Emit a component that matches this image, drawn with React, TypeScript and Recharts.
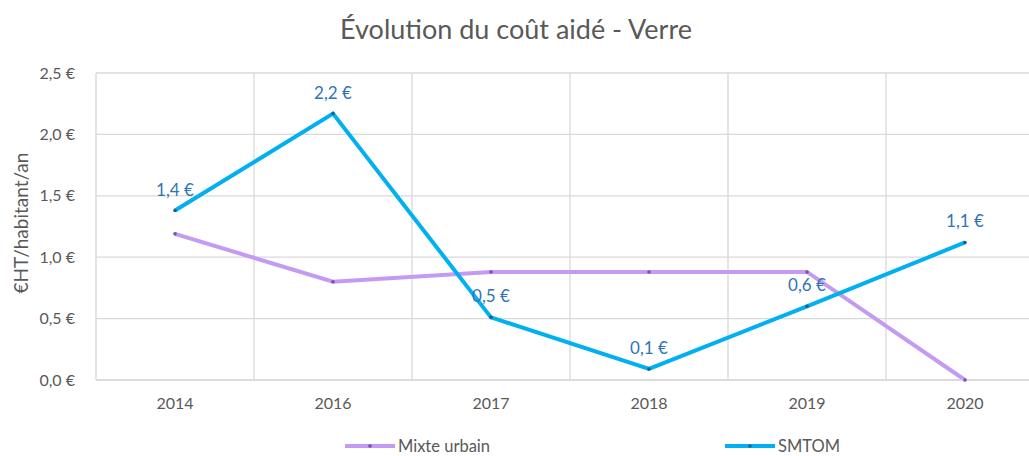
import { LineChart, Line, XAxis, YAxis, CartesianGrid, Legend, LabelList } from "recharts";

const years = ["2014", "2016", "2017", "2018", "2019", "2020"];
const mixteUrbain = [1.19, 0.8, 0.88, 0.88, 0.88, 0];
const smtom = [1.38, 2.17, 0.51, 0.09, 0.6, 1.12];
const yTicks = [0, 0.5, 1, 1.5, 2, 2.5];

const data = years.map((year, i) => ({
  year,
  mixte: mixteUrbain[i],
  smtom: smtom[i],
}));

const FONT = "Lato, 'Open Sans', sans-serif";
const GRAY = "#595959";
const PURPLE = "#C59AF2";
const BLUE = "#00B0F0";

const euro = (v: number) => `${v.toFixed(1).replace(".", ",")} €`;

function LegendContent() {
  const items = [
    { name: "Mixte urbain", color: PURPLE, dot: "#7A4FB0", left: 345 },
    { name: "SMTOM", color: BLUE, dot: "#1C5E8C", left: 725 },
  ];
  return (
    <div style={{ position: "relative", height: 20, fontFamily: FONT, fontSize: 16.5, color: GRAY }}>
      {items.map((it) => (
        <div
          key={it.name}
          style={{ position: "absolute", left: it.left, top: 0, height: 20, display: "flex", alignItems: "center" }}
        >
          <svg width={50} height={10} style={{ marginRight: 3 }}>
            <line x1={0} y1={5} x2={50} y2={5} stroke={it.color} strokeWidth={4} />
            <circle cx={25} cy={5} r={1.8} fill={it.dot} />
          </svg>
          <span>{it.name}</span>
        </div>
      ))}
    </div>
  );
}

export default function App() {
  return (
    <div
      style={{
        position: "absolute",
        left: 0,
        top: 0,
        width: 1029,
        height: 456,
        overflow: "hidden",
        background: "#fff",
      }}
    >
      <div
        style={{
          position: "absolute",
          top: 12,
          left: 0,
          width: 1032,
          textAlign: "center",
          fontFamily: FONT,
          fontSize: 27,
          color: GRAY,
          zIndex: 2,
        }}
      >
        Évolution du coût aidé - Verre
      </div>
      <LineChart
        width={1060}
        height={456}
        data={data}
        margin={{ top: 73, right: 16, left: 0, bottom: 0 }}
      >
        <CartesianGrid
          stroke="#D9D9D9"
          strokeWidth={1.3}
          verticalCoordinatesGenerator={({ offset }: any) =>
            Array.from({ length: years.length + 1 }, (_, i) => offset.left + (i * offset.width) / years.length)
          }
        />
        <XAxis
          dataKey="year"
          scale="band"
          height={56}
          axisLine={{ stroke: "#D9D9D9", strokeWidth: 1.3 }}
          tickLine={false}
          tickSize={0}
          tickMargin={18}
          tick={{ fill: GRAY, fontSize: 16, fontFamily: FONT }}
        />
        <YAxis
          width={96}
          domain={[0, 2.5]}
          ticks={yTicks}
          axisLine={false}
          tickLine={false}
          tickSize={0}
          tickMargin={21}
          tickFormatter={euro}
          tick={{ fill: GRAY, fontSize: 16, fontFamily: FONT }}
          label={{
            content: () => (
              <text
                x={20}
                y={223}
                transform="rotate(-90 20 223)"
                textAnchor="middle"
                dominantBaseline="central"
                fill={GRAY}
                fontSize={19}
                fontFamily={FONT}
              >
                €HT/habitant/an
              </text>
            ),
          }}
        />
        <Legend
          verticalAlign="bottom"
          content={<LegendContent />}
          wrapperStyle={{ bottom: 0, left: 0, height: 20 }}
        />
        <Line
          dataKey="mixte"
          name="Mixte urbain"
          stroke={PURPLE}
          strokeWidth={4}
          dot={{ r: 1.8, fill: "#7A4FB0", stroke: "none" }}
          activeDot={false}
          isAnimationActive={false}
        />
        <Line
          dataKey="smtom"
          name="SMTOM"
          stroke={BLUE}
          strokeWidth={4}
          dot={{ r: 1.8, fill: "#1C5E8C", stroke: "none" }}
          activeDot={false}
          isAnimationActive={false}
        >
          <LabelList
            dataKey="smtom"
            position="top"
            offset={15}
            formatter={(v: any) => euro(Number(v))}
            fill="#2E75B6"
            fontSize={17}
            fontFamily={FONT}
          />
        </Line>
      </LineChart>
    </div>
  );
}
